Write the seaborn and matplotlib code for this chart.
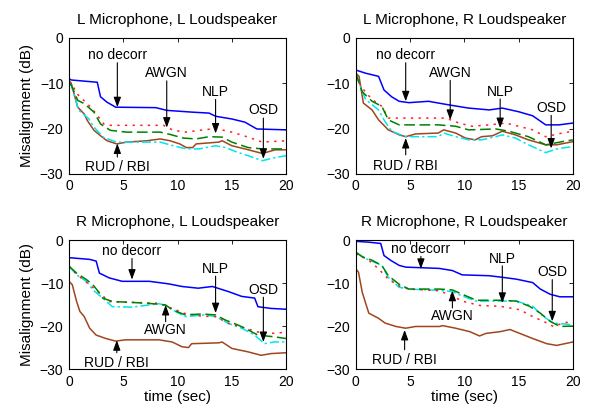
import numpy as np
import pandas as pd
import seaborn as sns
import matplotlib.pyplot as plt

# Values (time in sec, misalignment in dB)

# L microphone, L loudspeaker
ll_nodec_t = [0, 0.2, 2.6, 2.9, 3.5, 4.3, 8.0, 9.0, 11.4, 12.9, 13.5, 15.0, 16.2, 17.3, 20]
ll_nodec_db = [-9.0, -9.3, -9.8, -13.0, -14.2, -15.3, -15.4, -16.0, -16.4, -16.6, -17.3, -17.9, -18.6, -20.1, -20.3]
ll_rud_t = [0, 0.2, 0.8, 1.4, 1.7, 2.3, 2.9, 3.5, 4.4, 5.3, 7.2, 8.4, 9.3, 10.2, 10.8, 11.4, 11.7, 13.8, 14.1, 15.0, 16.2, 17.8, 19.0, 20]
ll_rud_db = [-9.5, -10.0, -15.3, -16.8, -18.3, -20.4, -21.6, -22.7, -23.4, -23.0, -22.7, -22.3, -22.7, -23.4, -24.2, -24.2, -23.4, -23.0, -22.7, -23.8, -24.5, -25.5, -24.7, -24.7]
ll_osd_t = [0, 0.2, 0.9, 1.8, 2.3, 3.2, 4.4, 8.4, 9.6, 10.8, 12.0, 13.5, 14.4, 15.6, 16.5, 17.8, 19.0, 20]
ll_osd_db = [-10.0, -10.4, -16.0, -17.8, -19.7, -22.0, -23.0, -23.0, -23.8, -24.5, -24.5, -23.8, -24.2, -25.3, -26.0, -27.1, -26.4, -26.0]
ll_nlp_t = [0, 0.2, 0.8, 1.4, 2.3, 2.9, 3.8, 5.3, 8.4, 9.3, 10.5, 11.7, 12.9, 14.1, 15.0, 16.5, 17.8, 20]
ll_nlp_db = [-10.0, -10.4, -13.8, -14.5, -16.4, -19.0, -20.4, -20.8, -20.8, -21.3, -22.1, -22.3, -21.8, -21.9, -23.0, -24.2, -24.5, -24.5]
ll_awgn_t = [0, 0.2, 0.8, 2.0, 2.6, 3.2, 3.8, 8.7, 9.6, 10.8, 12.0, 13.5, 15.0, 16.5, 17.8, 20]
ll_awgn_db = [-9.7, -10.0, -12.5, -15.3, -17.1, -19.0, -19.3, -19.3, -20.4, -20.8, -20.4, -20.0, -20.8, -21.9, -23.0, -22.7]

# L microphone, R loudspeaker
lr_nodec_t = [0, 0.9, 2.1, 2.6, 3.3, 4.0, 4.9, 6.7, 8.6, 10.4, 12.3, 13.5, 15.0, 16.3, 17.5, 18.7, 20]
lr_nodec_db = [-7.1, -7.8, -8.5, -11.5, -13.0, -14.0, -14.3, -14.0, -14.8, -15.5, -15.9, -15.5, -16.3, -17.2, -19.2, -19.2, -18.8]
lr_rud_t = [0, 0.3, 0.7, 1.5, 2.1, 3.0, 4.0, 4.6, 5.5, 7.6, 8.1, 9.2, 10.1, 11.0, 11.6, 12.6, 13.5, 14.7, 15.9, 17.5, 18.5, 20]
lr_rud_db = [-7.8, -8.5, -14.4, -15.9, -18.1, -20.3, -21.4, -21.8, -21.2, -21.0, -20.3, -21.0, -22.1, -22.5, -21.8, -21.6, -20.6, -21.4, -22.5, -23.6, -23.6, -22.9]
lr_osd_t = [0, 0.9, 2.1, 2.6, 3.3, 4.6, 7.6, 8.1, 9.2, 10.4, 11.6, 12.9, 13.5, 14.7, 15.9, 17.5, 18.7, 20]
lr_osd_db = [-8.1, -13.6, -15.9, -18.1, -20.6, -21.8, -21.8, -21.0, -21.8, -22.5, -22.5, -21.8, -21.4, -22.1, -23.6, -25.3, -24.4, -24.0]
lr_nlp_t = [0, 0.6, 1.5, 2.4, 3.0, 4.0, 7.6, 9.2, 10.4, 12.9, 14.1, 15.9, 17.5, 19.0, 20]
lr_nlp_db = [-7.8, -11.9, -14.0, -15.1, -18.1, -19.2, -19.2, -19.5, -20.3, -20.1, -20.6, -21.8, -23.6, -22.9, -22.5]
lr_awgn_t = [0, 0.6, 1.5, 2.4, 3.0, 5.0, 8.3, 9.5, 10.7, 12.3, 13.8, 15.0, 16.3, 17.5, 19.0, 20]
lr_awgn_db = [-8.5, -11.1, -13.6, -15.1, -17.7, -17.7, -17.7, -18.8, -19.5, -19.2, -18.8, -19.5, -20.3, -21.8, -21.0, -20.6]

# R microphone, L loudspeaker
rl_nodec_t = [0, 1.9, 2.5, 2.8, 3.7, 4.9, 7.4, 9.2, 10.4, 11.9, 13.2, 14.7, 15.9, 17.1, 17.4, 18.6, 20]
rl_nodec_db = [-4.1, -4.5, -4.9, -7.7, -8.8, -9.6, -9.6, -10.2, -10.8, -11.2, -10.8, -12.0, -13.1, -13.5, -15.5, -15.9, -16.1]
rl_rud_t = [0, 0.3, 0.7, 1.0, 1.4, 1.9, 2.5, 3.4, 4.3, 5.2, 8.3, 9.5, 10.4, 11.0, 11.3, 13.8, 14.1, 15.0, 16.5, 17.7, 18.6, 20]
rl_rud_db = [-9.6, -10.4, -14.3, -16.6, -17.8, -20.5, -22.1, -22.9, -23.5, -23.2, -23.2, -23.7, -24.8, -25.0, -24.1, -23.9, -23.7, -25.2, -26.0, -26.8, -26.4, -26.2]
rl_osd_t = [0, 0.7, 1.6, 2.2, 3.1, 4.0, 5.8, 8.3, 8.9, 9.8, 10.7, 12.5, 13.5, 14.7, 15.9, 17.1, 18.0, 18.9, 20]
rl_osd_db = [-6.1, -8.1, -9.6, -11.6, -13.5, -15.5, -15.6, -14.8, -15.2, -16.6, -17.8, -17.4, -17.8, -19.4, -20.5, -22.1, -24.1, -23.7, -23.7]
rl_nlp_t = [0, 0.7, 1.6, 2.2, 2.8, 3.1, 4.0, 5.8, 7.7, 8.9, 9.5, 10.7, 12.2, 13.5, 14.4, 15.6, 16.5, 17.4, 18.9, 20]
rl_nlp_db = [-6.1, -7.7, -9.2, -10.4, -12.3, -13.5, -14.3, -14.5, -14.8, -15.1, -16.2, -17.4, -17.2, -17.4, -18.6, -19.8, -20.9, -22.1, -22.5, -22.9]
rl_awgn_t = [0, 0.9, 1.9, 2.8, 3.7, 5.8, 8.3, 9.5, 10.7, 12.2, 13.5, 14.7, 15.9, 17.4, 18.9, 20]
rl_awgn_db = [-6.1, -8.4, -10.4, -12.3, -14.3, -14.5, -14.7, -15.9, -17.1, -17.7, -17.8, -19.4, -20.2, -21.4, -21.7, -21.4]

# R microphone, R loudspeaker
rr_nodec_t = [0, 1.2, 2.3, 2.6, 3.2, 4.0, 4.6, 7.7, 8.9, 9.8, 12.3, 13.6, 14.8, 16.3, 17.0, 17.9, 18.8, 20]
rr_nodec_db = [-0.3, -0.5, -0.8, -3.6, -4.7, -5.9, -6.3, -6.6, -7.1, -8.1, -8.3, -8.7, -9.1, -9.9, -11.4, -12.6, -13.2, -13.2]
rr_rud_t = [0, 0.25, 0.6, 1.2, 2.1, 2.7, 3.7, 4.6, 5.5, 7.7, 8.0, 9.2, 10.5, 11.4, 12.0, 13.3, 14.2, 15.1, 16.3, 17.6, 18.5, 20]
rr_rud_db = [-6.7, -7.5, -12.2, -17.0, -18.2, -19.3, -20.1, -20.5, -20.1, -20.1, -19.9, -20.5, -21.3, -22.3, -21.7, -21.3, -20.8, -21.7, -22.9, -24.1, -24.5, -23.7]
rr_osd_t = [0, 0.9, 2.4, 3.0, 4.0, 4.9, 7.7, 8.9, 9.8, 11.1, 13.6, 14.8, 16.3, 17.3, 18.2, 20]
rr_osd_db = [-2.9, -4.3, -5.9, -8.7, -11.0, -11.4, -11.7, -12.0, -13.0, -14.2, -14.2, -14.2, -15.4, -17.8, -19.3, -19.7]
rr_nlp_t = [0, 0.6, 1.5, 2.4, 3.0, 4.0, 4.9, 7.7, 8.9, 9.8, 11.1, 13.3, 14.8, 16.0, 17.0, 17.9, 18.8, 20]
rr_nlp_db = [-2.8, -3.9, -4.7, -5.9, -8.3, -10.3, -11.4, -11.4, -11.6, -12.6, -14.0, -14.0, -14.2, -15.4, -17.0, -18.9, -20.1, -20.0]
rr_awgn_t = [0, 1.2, 2.1, 3.0, 4.0, 4.9, 7.7, 8.9, 9.8, 11.4, 13.3, 14.2, 15.1, 16.3, 17.3, 18.2, 19.1, 20]
rr_awgn_db = [-3.2, -4.7, -6.7, -9.1, -10.7, -11.4, -11.8, -13.0, -14.2, -15.2, -15.4, -15.8, -16.2, -17.8, -18.9, -20.1, -19.3, -18.9]

titles = ["L Microphone, L Loudspeaker", "L Microphone, R Loudspeaker",
          "R Microphone, L Loudspeaker", "R Microphone, R Loudspeaker"]

# arrow labels: (text, x, text y, arrow start y, arrow tip y)
ll_notes = [("no decorr", 4.45, -3.8, -5.5, -15.3), ("AWGN", 9.0, -7.8, -9.5, -19.8),
            ("NLP", 13.5, -11.9, -13.6, -21.1), ("OSD", 17.9, -16.0, -17.7, -26.7),
            ("RUD / RBI", 4.45, -28.4, -26.3, -23.3)]
lr_notes = [("no decorr", 4.6, -3.7, -5.5, -14.0), ("AWGN", 8.7, -7.8, -9.4, -18.1),
            ("NLP", 13.3, -11.9, -13.5, -19.9), ("OSD", 18.0, -15.5, -17.1, -24.4),
            ("RUD / RBI", 4.6, -28.2, -25.8, -22.1)]
rl_notes = [("no decorr", 5.8, -2.6, -4.3, -9.2), ("NLP", 13.5, -6.7, -8.4, -17.0),
            ("OSD", 17.9, -11.6, -13.3, -23.7), ("AWGN", 8.9, -20.9, -19.0, -15.1),
            ("RUD / RBI", 4.4, -28.6, -26.2, -23.3)]
rr_notes = [("no decorr", 6.0, -2.1, -3.8, -6.7), ("NLP", 13.5, -4.3, -6.0, -14.6),
            ("OSD", 18.1, -7.5, -9.2, -18.9), ("AWGN", 8.9, -17.6, -15.8, -11.8),
            ("RUD / RBI", 4.5, -28.0, -25.5, -20.9)]

panels = [
    {"no decorr": (ll_nodec_t, ll_nodec_db), "RUD / RBI": (ll_rud_t, ll_rud_db), "OSD": (ll_osd_t, ll_osd_db),
     "AWGN": (ll_awgn_t, ll_awgn_db), "NLP": (ll_nlp_t, ll_nlp_db)},
    {"no decorr": (lr_nodec_t, lr_nodec_db), "RUD / RBI": (lr_rud_t, lr_rud_db), "OSD": (lr_osd_t, lr_osd_db),
     "AWGN": (lr_awgn_t, lr_awgn_db), "NLP": (lr_nlp_t, lr_nlp_db)},
    {"no decorr": (rl_nodec_t, rl_nodec_db), "RUD / RBI": (rl_rud_t, rl_rud_db), "OSD": (rl_osd_t, rl_osd_db),
     "AWGN": (rl_awgn_t, rl_awgn_db), "NLP": (rl_nlp_t, rl_nlp_db)},
    {"no decorr": (rr_nodec_t, rr_nodec_db), "RUD / RBI": (rr_rud_t, rr_rud_db), "OSD": (rr_osd_t, rr_osd_db),
     "AWGN": (rr_awgn_t, rr_awgn_db), "NLP": (rr_nlp_t, rr_nlp_db)},
]
notes = [ll_notes, lr_notes, rl_notes, rr_notes]

STYLE = {
    "no decorr": dict(color="#0000ff", linestyle="-"),
    "RUD / RBI": dict(color="#a0461e", linestyle="-"),
    "OSD": dict(color="#00e5f0", linestyle=(0, (6, 2, 1.5, 2))),
    "AWGN": dict(color="#ff2020", linestyle=(0, (1.5, 3.5))),
    "NLP": dict(color="#008000", linestyle=(0, (7, 3))),
}

sns.set_style("white")
plt.rcParams['font.family'] = ['Liberation Sans', 'DejaVu Sans']
plt.rcParams['axes.unicode_minus'] = True
plt.rcParams['text.color'] = 'black'
plt.rcParams['axes.labelcolor'] = 'black'

fig = plt.figure(figsize=(5.9, 4.11), dpi=100)
rects = [
    [0.117, 0.577, 0.368, 0.331],
    [0.603, 0.577, 0.368, 0.331],
    [0.117, 0.102, 0.368, 0.314],
    [0.603, 0.102, 0.368, 0.314],
]

for k in range(4):
    ax = fig.add_axes(rects[k])
    for name, (tt, dd) in panels[k].items():
        sns.lineplot(x=tt, y=dd, ax=ax, lw=1.1, **STYLE[name])

    for label, x, ty, y0, y1 in notes[k]:
        ax.text(x, ty, label, ha="center", va="center", fontsize=10, color="k")
        ax.annotate("", xy=(x, y1), xytext=(x, y0),
                    arrowprops=dict(arrowstyle="-|>,head_length=0.6,head_width=0.22",
                                    color="k", lw=0.8, shrinkA=0, shrinkB=0,
                                    mutation_scale=10))

    ax.set_xlim(0, 20)
    ax.set_ylim(-30, 0)
    ax.set_xticks([0, 5, 10, 15, 20])
    ax.set_yticks([-30, -20, -10, 0])
    ax.tick_params(direction="in", length=3, width=0.6, top=True, right=True,
                   labelsize=10, pad=4, colors="k")
    for sp in ax.spines.values():
        sp.set_color("k")
        sp.set_linewidth(0.8)
    ax.set_title(titles[k], fontsize=11, pad=10, color="k")
    if k % 2 == 0:
        ax.set_ylabel("Misalignment (dB)", fontsize=11)
    if k >= 2:
        ax.set_xlabel("time (sec)", fontsize=11, labelpad=1)

fig.savefig("out.png", dpi=100)
